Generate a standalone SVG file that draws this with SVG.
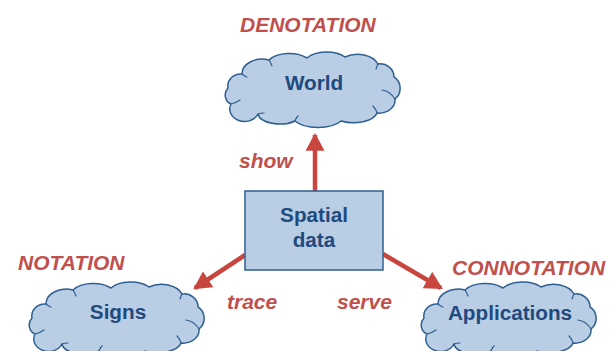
<svg xmlns="http://www.w3.org/2000/svg" width="614" height="351" viewBox="0 0 614 351">
<style>
.cloud{fill:#B9CDE5;stroke:#2E5F91;stroke-width:1.5;stroke-linejoin:round}
.inner{fill:none;stroke:#2E5F91;stroke-width:1.2;stroke-linecap:round}
.box{fill:#B9CDE5;stroke:#2E5F91;stroke-width:1.5}
.nt{font-family:"Liberation Sans",Arial,sans-serif;font-weight:bold;font-size:20.7px;fill:#1F4A7D;text-anchor:middle}
.lb{font-family:"Liberation Sans",Arial,sans-serif;font-weight:bold;font-style:italic;font-size:21px;fill:#C0504D}
.conn{stroke:#C9463F;stroke-width:4.5;fill:none}
</style>
<defs>
<marker id="ah" markerUnits="userSpaceOnUse" markerWidth="19" markerHeight="19" refX="15" refY="9" orient="auto" viewBox="0 0 18 18">
<path d="M0,0 L17,9 L0,18 Z" fill="#C9463F"/>
</marker>
<g id="cloudshape">
<path class="cloud" d="M17,20 A20 15 0 0 1 44,6 A24 14 0 0 1 82,4 A24 14 0 0 1 120,3 A22 15 0 0 1 153,10 A14 13 0 0 1 169,23 A12 13 0 0 1 170,45 A16 13 0 0 1 152,59 A24 12 0 0 1 116,67 A26 12 0 0 1 70,67 A22 11 0 0 1 33,60 A13 11 0 0 1 6,50 A10 10 0 0 1 3,34 A13 12 0 0 1 17,20 Z"/>
<path class="inner" d="M17,20 Q19,22 22,23"/>
<path class="inner" d="M44,6 Q46,9 47,12"/>
<path class="inner" d="M153,10 Q152,12 151,15"/>
<path class="inner" d="M170,45 Q165,37 157,36"/>
<path class="inner" d="M152,59 Q151,55 148,52"/>
<path class="inner" d="M70,67 Q71,64 73,62"/>
<path class="inner" d="M33,60 Q36,59 39,59"/>
<path class="inner" d="M6,50 Q11,49 15,46"/>
</g>
</defs>
<g id="connectors">
<line class="conn" x1="315" y1="191" x2="315" y2="135" marker-end="url(#ah)"/>
<line class="conn" x1="245" y1="255" x2="195" y2="288" marker-end="url(#ah)"/>
<line class="conn" x1="383" y1="254" x2="441" y2="288" marker-end="url(#ah)"/>
</g>
<g id="world">
<use href="#cloudshape" transform="translate(225,54)"/>
<text class="nt" x="314" y="90">World</text>
</g>
<g id="spatial">
<rect class="box" x="245" y="191" width="138" height="79"/>
<text class="nt" x="314" y="222">Spatial</text>
<text class="nt" x="314" y="247">data</text>
</g>
<g id="signs">
<use href="#cloudshape" transform="translate(29,284)"/>
<text class="nt" x="118" y="319">Signs</text>
</g>
<g id="applications">
<use href="#cloudshape" transform="translate(421,284)"/>
<text class="nt" x="510" y="320">Applications</text>
</g>
<g id="labels">
<text class="lb" x="240" y="32">DENOTATION</text>
<text class="lb" x="18" y="270">NOTATION</text>
<text class="lb" x="452" y="275">CONNOTATION</text>
<text class="lb" x="239" y="168">show</text>
<text class="lb" x="227" y="309">trace</text>
<text class="lb" x="337" y="309">serve</text>
</g>
</svg>
